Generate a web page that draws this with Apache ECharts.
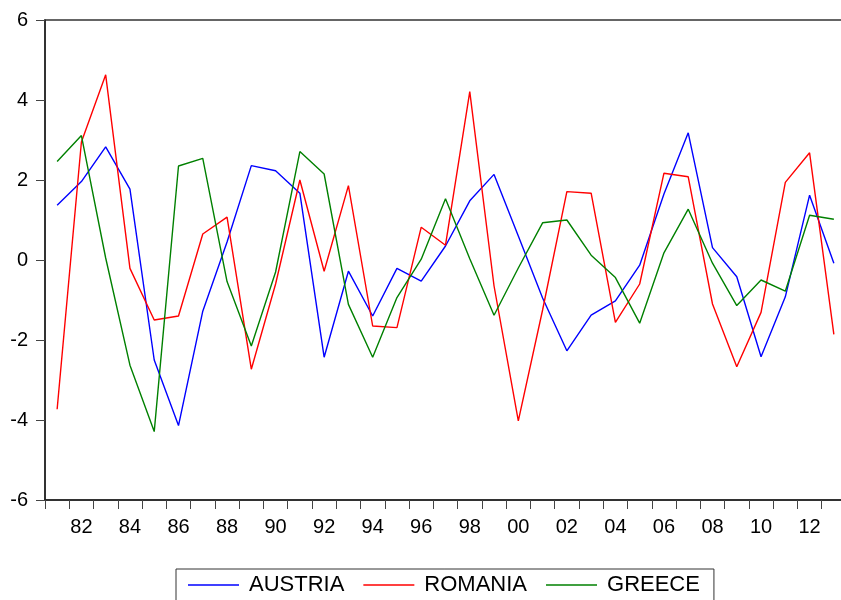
<!DOCTYPE html>
<html>
<head>
<meta charset="utf-8">
<script src="https://cdn.jsdelivr.net/npm/echarts@6/dist/echarts.min.js"></script>
<style>
html,body{margin:0;padding:0;background:#fff;overflow:hidden;width:841px;height:600px;}
#chart{width:860px;height:600px;}
</style>
</head>
<body>
<div id="chart"></div>
<script>
var years = ['1981','1982','1983','1984','1985','1986','1987','1988','1989','1990','1991','1992','1993','1994','1995','1996','1997','1998','1999','2000','2001','2002','2003','2004','2005','2006','2007','2008','2009','2010','2011','2012','2013'];
var austria = [1.37, 1.96, 2.83, 1.77, -2.5, -4.14, -1.28, 0.45, 2.36, 2.23, 1.67, -2.43, -0.28, -1.4, -0.21, -0.53, 0.35, 1.48, 2.14, 0.6, -0.95, -2.27, -1.38, -1.02, -0.13, 1.65, 3.18, 0.31, -0.42, -2.42, -0.92, 1.62, -0.08];
var romania = [-3.73, 2.95, 4.63, -0.21, -1.5, -1.4, 0.65, 1.07, -2.73, -0.6, 2.0, -0.28, 1.86, -1.65, -1.69, 0.82, 0.37, 4.21, -0.65, -4.02, -1.25, 1.71, 1.67, -1.56, -0.6, 2.17, 2.08, -1.1, -2.67, -1.31, 1.94, 2.68, -1.86];
var greece = [2.46, 3.11, 0.05, -2.63, -4.29, 2.35, 2.54, -0.54, -2.15, -0.3, 2.71, 2.15, -1.11, -2.43, -0.94, 0.02, 1.53, 0.03, -1.38, -0.2, 0.93, 1.0, 0.12, -0.44, -1.58, 0.18, 1.27, -0.08, -1.14, -0.5, -0.78, 1.12, 1.02];
var seriesNames = ['AUSTRIA', 'ROMANIA', 'GREECE'];
var seriesColors = ['#0000FF', '#FF0000', '#008000'];
var yMin = -6, yMax = 6, yStep = 2;

var font = "'Liberation Sans', Arial, sans-serif";
var chart = echarts.init(document.getElementById('chart'), null, {renderer: 'canvas'});
var dataSets = [austria, romania, greece];
var option = {
  animation: false,
  backgroundColor: '#fff',
  grid: {
    left: 45, top: 20, width: 801, height: 480,
    show: true, borderColor: '#333', borderWidth: 1.5, backgroundColor: 'transparent'
  },
  legend: {
    left: 176, top: 569,
    data: seriesNames,
    icon: 'rect',
    itemWidth: 51, itemHeight: 1.5,
    itemGap: 19,
    padding: [5, 14, 5, 12],
    borderColor: '#333', borderWidth: 1,
    textStyle: {fontFamily: font, fontSize: 22, color: '#000', padding: [0, 0, 0, 5]}
  },
  xAxis: {
    type: 'category',
    data: years,
    boundaryGap: true,
    axisLine: {onZero: false, lineStyle: {color: '#222', width: 1.5}},
    axisTick: {show: true, interval: 0, length: 9, lineStyle: {color: '#444'}},
    axisLabel: {
      interval: function (i) { return i % 2 === 1; },
      formatter: function (v) { return v.slice(2); },
      fontFamily: font, fontSize: 20, color: '#000', margin: 17
    },
    splitLine: {show: false}
  },
  yAxis: {
    type: 'value',
    min: yMin, max: yMax, interval: yStep,
    axisLine: {show: true, lineStyle: {color: '#222', width: 1.5}},
    axisTick: {show: true, length: 9, lineStyle: {color: '#444'}},
    axisLabel: {fontFamily: font, fontSize: 20, color: '#000', margin: 17},
    splitLine: {show: false}
  },
  series: seriesNames.map(function (n, k) {
    return {
      name: n, type: 'line', data: dataSets[k],
      symbol: 'none', smooth: false,
      lineStyle: {color: seriesColors[k], width: 1.4},
      itemStyle: {color: seriesColors[k]}
    };
  })
};
chart.setOption(option);
</script>
</body>
</html>
